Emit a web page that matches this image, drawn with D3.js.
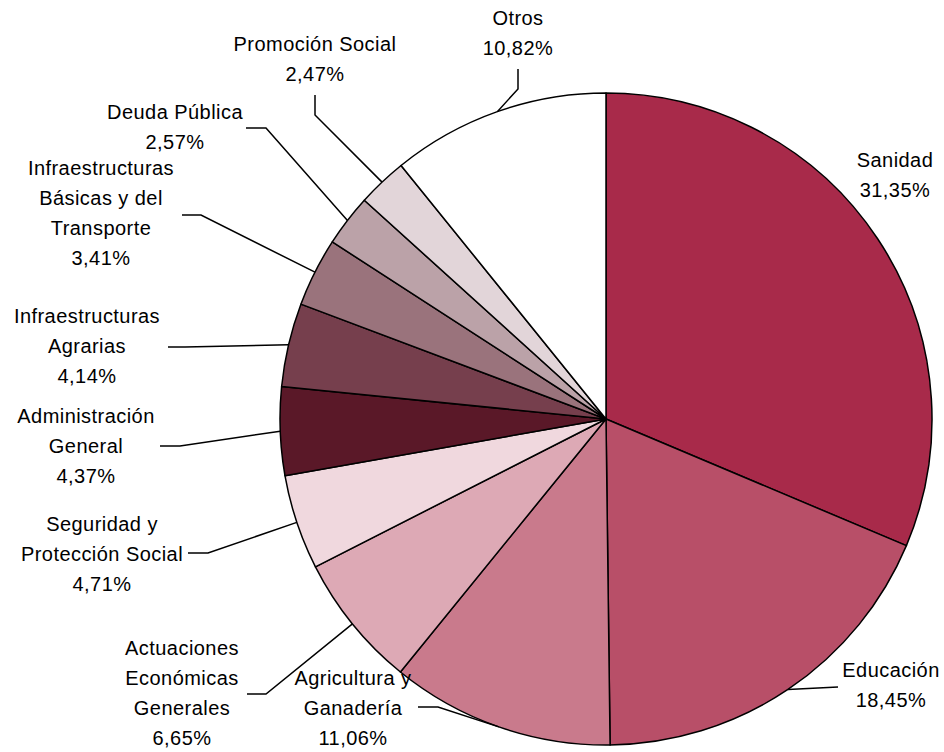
<!DOCTYPE html>
<html>
<head>
<meta charset="utf-8">
<script src="https://cdn.jsdelivr.net/npm/d3@7"></script>
<style>
  body { margin: 0; background: #fff; }
  text { font-family: "Liberation Sans", Arial, sans-serif; font-size: 20px; letter-spacing: 0.45px; fill: #000; }
</style>
</head>
<body>
<div id="chart"></div>
<script>
// Data (clockwise from 12 o'clock)
var categories = ["Sanidad", "Educación", "Agricultura y Ganadería", "Actuaciones Económicas Generales",
  "Seguridad y Protección Social", "Administración General", "Infraestructuras Agrarias",
  "Infraestructuras Básicas y del Transporte", "Deuda Pública", "Promoción Social", "Otros"];
var values = [31.35, 18.45, 11.06, 6.65, 4.71, 4.37, 4.14, 3.41, 2.57, 2.47, 10.82];
var labelLines = [
  ["Sanidad"], ["Educación"], ["Agricultura y", "Ganadería"], ["Actuaciones", "Económicas", "Generales"],
  ["Seguridad y", "Protección Social"], ["Administración", "General"], ["Infraestructuras", "Agrarias"],
  ["Infraestructuras", "Básicas y del", "Transporte"], ["Deuda Pública"], ["Promoción Social"], ["Otros"]
];
var colors = ["#a82a4a", "#b84f68", "#c97a8c", "#dda9b5", "#f0d8de", "#5a1828", "#763f4d",
  "#9a737c", "#bba2a8", "#e2d5d9", "#ffffff"];

// label placement: center x, first baseline y, leader points (before reaching pie edge)
var layout = [
  { x: 895, y: 167, leader: null },
  { x: 891, y: 677, leader: [[838, 687]] },
  { x: 353, y: 685, leader: [[418, 707], [438, 707]] },
  { x: 182, y: 655, leader: [[247, 694], [266, 694]] },
  { x: 102, y: 531, leader: [[188, 553], [208, 553]] },
  { x: 86, y: 423, leader: [[160, 446], [180, 446]] },
  { x: 87, y: 323, leader: [[168, 347], [185, 347]] },
  { x: 101, y: 175, leader: [[182, 215], [201, 215]] },
  { x: 175, y: 119, leader: [[246, 128], [266, 128]] },
  { x: 315, y: 51, leader: [[315, 95], [315, 115]] },
  { x: 518, y: 25, leader: [[518, 69], [518, 89]] }
];

var svgWidth = 944, svgHeight = 752;
var cx = 606, cy = 419, radius = 326;

var svg = d3.select("#chart").append("svg")
  .attr("width", svgWidth)
  .attr("height", svgHeight);

var pieGroup = svg.append("g")
  .attr("transform", `translate(${cx}, ${cy})`);

var pie = d3.pie().sort(null).value(d => d);
var arcs = pie(values);
var arc = d3.arc().innerRadius(0).outerRadius(radius);

pieGroup.selectAll("path")
  .data(arcs)
  .enter()
  .append("path")
  .attr("d", arc)
  .attr("fill", (d, i) => colors[i])
  .attr("stroke", "#000")
  .attr("stroke-width", 1.5)
  .attr("stroke-linejoin", "round");

// Leader lines to the slice mid-angle on the rim
var line = d3.line();
arcs.forEach((d, i) => {
  var l = layout[i];
  if (!l.leader) return;
  var mid = (d.startAngle + d.endAngle) / 2;
  var edge = [cx + radius * Math.sin(mid), cy - radius * Math.cos(mid)];
  svg.append("path")
    .attr("d", line(l.leader.concat([edge])))
    .attr("fill", "none")
    .attr("stroke", "#000")
    .attr("stroke-width", 1.5);
});

// Labels
var fmt = v => v.toFixed(2).replace(".", ",") + "%";
categories.forEach((c, i) => {
  var l = layout[i];
  var t = svg.append("text")
    .attr("text-anchor", "middle");
  labelLines[i].concat([fmt(values[i])]).forEach((s, j) => {
    t.append("tspan")
      .attr("x", l.x)
      .attr("y", l.y + j * 30)
      .text(s);
  });
});
</script>
</body>
</html>
